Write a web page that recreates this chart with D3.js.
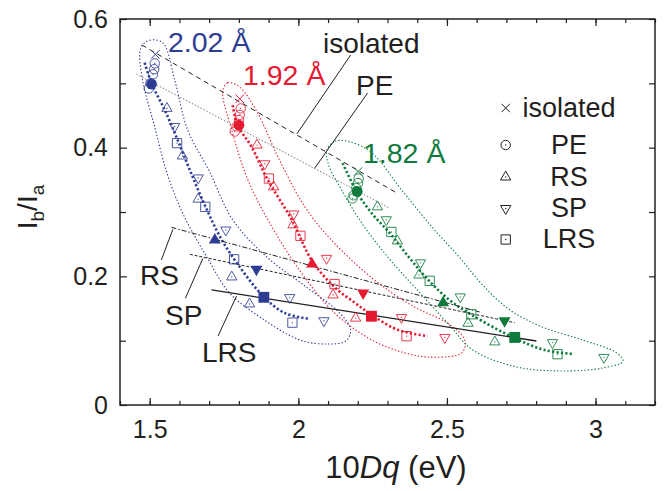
<!DOCTYPE html>
<html><head><meta charset="utf-8">
<script src="https://cdn.jsdelivr.net/npm/d3@7"></script>
<style>
body{margin:0;background:#fff}
svg{display:block}
text{font-family:"Liberation Sans",Arial,Helvetica,sans-serif;fill:#231f20}
</style>
</head><body>
<svg id="c" width="667" height="491"></svg>
<script>
// ---------------- data ----------------
const groups = ["2.02 Å", "1.92 Å", "1.82 Å"];
const isolated = [[1.519, 0.545], [1.803, 0.476], [2.201, 0.363]];
const peOpen = [
  [[1.517,0.531],[1.515,0.522],[1.511,0.514],[1.502,0.500],[1.497,0.492]],
  [[1.806,0.461],[1.803,0.451],[1.800,0.443],[1.792,0.433],[1.786,0.425]],
  [[2.203,0.352],[2.201,0.345],[2.195,0.337],[2.186,0.326],[2.182,0.321]]
];
const peFilled = [[1.506,0.499],[1.800,0.435],[2.198,0.332]];
const rsOpen = [
  [[1.558,0.461],[1.610,0.387],[1.663,0.320],[1.776,0.199],[1.836,0.157]],
  [[1.861,0.404],[1.917,0.339],[1.982,0.280],[2.117,0.171],[2.193,0.135]],
  [[2.266,0.308],[2.333,0.255],[2.406,0.202],[2.571,0.127],[2.661,0.098]]
];
const rsFilled = [[1.719,0.2565],[2.046,0.219],[2.487,0.159]];
const spOpen = [
  [[1.584,0.433],[1.663,0.353],[1.756,0.272],[1.971,0.167],[2.086,0.131]],
  [[1.887,0.375],[1.985,0.297],[2.095,0.228],[2.347,0.136],[2.493,0.105]],
  [[2.296,0.288],[2.411,0.221],[2.545,0.168],[2.855,0.097],[3.028,0.074]]
];
const spFilled = [[1.859,0.211],[2.218,0.174],[2.694,0.131]];
const lrsOpen = [
  [[1.592,0.407],[1.687,0.308],[1.784,0.2265],[1.980,0.128]],
  [[1.901,0.352],[2.007,0.263],[2.122,0.188],[2.364,0.107]],
  [[2.313,0.269],[2.442,0.193],[2.582,0.141],[2.872,0.079]]
];
const lrsFilled = [[1.884,0.1674],[2.246,0.138],[2.728,0.105]];
const trend = [
  [[1.483,0.532],[1.507,0.499],[1.550,0.459],[1.594,0.412],[1.635,0.365],[1.685,0.311],[1.742,0.257],[1.810,0.210],[1.884,0.168],[1.954,0.143],[2.035,0.134]],
  [[1.779,0.466],[1.796,0.435],[1.843,0.401],[1.897,0.350],[1.978,0.288],[2.045,0.225],[2.122,0.183],[2.190,0.159],[2.247,0.140],[2.334,0.117],[2.435,0.107]],
  [[2.149,0.376],[2.197,0.331],[2.247,0.298],[2.308,0.267],[2.375,0.228],[2.442,0.192],[2.509,0.163],[2.583,0.140],[2.728,0.104],[2.829,0.0855],[2.923,0.0793]]
];
const envelope = [
  [[1.470,0.555],[1.500,0.567],[1.544,0.563],[1.584,0.505],[1.628,0.427],[1.702,0.362],[1.779,0.288],[1.894,0.230],[2.028,0.183],[2.139,0.143],[2.176,0.117],[2.160,0.0995],[2.096,0.0948],[2.005,0.101],[1.870,0.137],[1.769,0.174],[1.692,0.230],[1.611,0.298],[1.557,0.362],[1.517,0.432],[1.476,0.505]],
  [[1.746,0.490],[1.762,0.501],[1.803,0.494],[1.863,0.454],[1.931,0.386],[2.022,0.308],[2.112,0.256],[2.257,0.194],[2.392,0.152],[2.503,0.127],[2.560,0.101],[2.550,0.081],[2.435,0.0746],[2.348,0.0824],[2.247,0.101],[2.122,0.143],[2.011,0.205],[1.911,0.277],[1.830,0.350],[1.776,0.427],[1.746,0.479]],
  [[2.096,0.396],[2.123,0.410],[2.173,0.409],[2.247,0.392],[2.348,0.334],[2.449,0.277],[2.543,0.229],[2.617,0.188],[2.711,0.148],[2.822,0.121],[2.957,0.101],[3.071,0.081],[3.092,0.068],[3.024,0.0575],[2.890,0.0529],[2.735,0.0591],[2.587,0.0855],[2.503,0.127],[2.392,0.183],[2.301,0.230],[2.213,0.283],[2.146,0.334],[2.102,0.373]]
];
const isoLine = [[1.473,0.5597],[2.331,0.3296]];
const peLine  = [[1.455,0.5145],[2.308,0.3058]];
const rsLine  = [[1.573,0.2762],[2.610,0.1446]];
const spLine  = [[1.635,0.2342],[2.728,0.1279]];
const lrsLine = [[1.708,0.1788],[2.801,0.0995]];
const xMajor = [1.5, 2, 2.5, 3];
const yMajor = [0, 0.2, 0.4, 0.6];
const legendItems = ["isolated", "PE", "RS", "SP", "LRS"];

// ---------------- drawing ----------------
const colors = ["#2e3d94", "#e5192f", "#0e7a3b"];
const ink = "#231f20";
const svg = d3.select("#c");
const L = 120, R = 655, T = 19, B = 405;
const x = d3.scaleLinear().domain([1.4, 3.2]).range([L, R]);
const y = d3.scaleLinear().domain([0, 0.6]).range([B, T]);
const ln = d3.line().x(d => x(d[0])).y(d => y(d[1]));

// envelopes
svg.append("g").selectAll("path").data(envelope).join("path")
  .attr("d", d3.line().x(d => x(d[0])).y(d => y(d[1])).curve(d3.curveCatmullRomClosed.alpha(0.5)))
  .attr("fill", "none").attr("stroke", (d, i) => colors[i])
  .attr("stroke-width", 1.1).attr("stroke-dasharray", "1.4,2");

// trend lines (thick dotted)
svg.append("g").selectAll("path").data(trend).join("path")
  .attr("d", d3.line().x(d => x(d[0])).y(d => y(d[1])).curve(d3.curveCatmullRom.alpha(0.5)))
  .attr("fill", "none").attr("stroke", (d, i) => colors[i])
  .attr("stroke-width", 2.6).attr("stroke-dasharray", "2.2,2.2");

// reference lines
const refs = [
  {d: isoLine, c: ink, w: 1, dash: "5,4"},
  {d: peLine, c: "#777", w: 1, dash: "1.5,1.8"},
  {d: rsLine, c: ink, w: 1, dash: "5,2,1.5,2"},
  {d: spLine, c: ink, w: 1, dash: "3,1.8"},
  {d: lrsLine, c: ink, w: 1.3, dash: null}
];
refs.forEach(r => {
  svg.append("path").attr("d", ln(r.d)).attr("fill", "none")
    .attr("stroke", r.c).attr("stroke-width", r.w)
    .attr("stroke-dasharray", r.dash);
});

// leader lines (annotation)
const leaders = [
  [[2.176,0.5441],[1.995,0.4213]],
  [[2.233,0.485],[2.055,0.368]],
  [[1.539,0.2254],[1.578,0.2731]],
  [[1.620,0.1659],[1.679,0.2280]],
  [[1.730,0.1073],[1.792,0.1694]]
];
leaders.forEach(p => svg.append("path").attr("d", ln(p)).attr("stroke", ink).attr("stroke-width", 1).attr("fill", "none"));

// markers
const sym = (type, size) => d3.symbol().type(type).size(size)();
const gM = svg.append("g");
function openMarker(g, type, px, py, col, down) {
  const grp = g.append("g").attr("transform", `translate(${px},${py})` + (down ? " rotate(180)" : ""));
  if (type === "circle") {
    grp.append("circle").attr("r", 4.7).attr("fill", "none").attr("stroke", col).attr("stroke-width", 1);
  } else if (type === "tri") {
    grp.append("path").attr("d", sym(d3.symbolTriangle, 46)).attr("fill", "none").attr("stroke", col).attr("stroke-width", 1);
  } else if (type === "sq") {
    grp.append("path").attr("d", sym(d3.symbolSquare, 86)).attr("fill", "none").attr("stroke", col).attr("stroke-width", 1);
  }
  grp.append("circle").attr("r", 0.7).attr("fill", col);
  return grp;
}
function filledMarker(g, type, px, py, col, down) {
  const grp = g.append("g").attr("transform", `translate(${px},${py})` + (down ? " rotate(180)" : ""));
  if (type === "circle") grp.append("circle").attr("r", 5.4).attr("fill", col);
  else if (type === "tri") grp.append("path").attr("d", sym(d3.symbolTriangle, 62)).attr("fill", col);
  else grp.append("path").attr("d", sym(d3.symbolSquare, 118)).attr("fill", col);
}
function cross(g, px, py, col, h) {
  g.append("path").attr("d", `M${px-h},${py-h}L${px+h},${py+h}M${px-h},${py+h}L${px+h},${py-h}`)
    .attr("stroke", col).attr("stroke-width", 1).attr("fill", "none");
}

groups.forEach((gname, i) => {
  const col = colors[i];
  const g = gM.append("g").attr("class", "grp");
  peOpen[i].forEach(p => openMarker(g, "circle", x(p[0]), y(p[1]), col, false).attr("opacity", 0.85));
  rsOpen[i].forEach(p => openMarker(g, "tri", x(p[0]), y(p[1]), col, false).attr("opacity", 0.85));
  spOpen[i].forEach(p => openMarker(g, "tri", x(p[0]), y(p[1]), col, true).attr("opacity", 0.85));
  lrsOpen[i].forEach(p => openMarker(g, "sq", x(p[0]), y(p[1]), col, false).attr("opacity", 0.85));
  cross(g, x(isolated[i][0]), y(isolated[i][1]), col, 4.2);
  filledMarker(g, "circle", x(peFilled[i][0]), y(peFilled[i][1]), col, false);
  filledMarker(g, "tri", x(rsFilled[i][0]), y(rsFilled[i][1]), col, false);
  filledMarker(g, "tri", x(spFilled[i][0]), y(spFilled[i][1]), col, true);
  filledMarker(g, "sq", x(lrsFilled[i][0]), y(lrsFilled[i][1]), col, false);
});

// group labels
const glabPos = [[168, 52], [243, 85], [363, 163]];
groups.forEach((t, i) => {
  svg.append("text").attr("x", glabPos[i][0]).attr("y", glabPos[i][1])
    .attr("font-size", 28.5).style("fill", colors[i]).text(t);
});

// line labels
const labs = [["isolated", 323, 53], ["PE", 356, 95], ["RS", 140, 285], ["SP", 165, 325], ["LRS", 202, 362]];
labs.forEach(l => svg.append("text").attr("x", l[1]).attr("y", l[2]).attr("font-size", 28).text(l[0]));

// legend
const legY = [108, 145, 177, 208.5, 239.5];
const gL = svg.append("g");
legendItems.forEach((t, k) => {
  const sx = 505.7, sy = legY[k];
  if (k === 0) cross(gL, sx, sy, ink, 4.2);
  else if (k === 1) openMarker(gL, "circle", sx, sy, ink, false);
  else if (k === 2) openMarker(gL, "tri", sx, sy, ink, false);
  else if (k === 3) openMarker(gL, "tri", sx, sy, ink, true);
  else openMarker(gL, "sq", sx, sy, ink, false);
  gL.append("text").attr("x", 569).attr("y", sy + 8.5).attr("text-anchor", "middle")
    .attr("font-size", 27).text(t);
});

// axes
const minorX = d3.range(14, 33).map(v => v / 10);
const minorY = [0.1, 0.3, 0.5];
const axG = svg.append("g");
function styleAxis(sel) {
  sel.select(".domain").remove();
  sel.selectAll("line").attr("stroke", ink).attr("stroke-width", 1.2);
  sel.selectAll("text").attr("font-size", 25).style("fill", ink)
    .attr("font-family", '"Liberation Sans",Arial,sans-serif');
}
axG.append("g").attr("transform", `translate(0,${B})`)
  .call(d3.axisBottom(x).tickValues(minorX).tickSize(-4).tickFormat("")).call(styleAxis);
axG.append("g").attr("transform", `translate(0,${B})`)
  .call(d3.axisBottom(x).tickValues(xMajor).tickSize(-7).tickPadding(15).tickFormat(d3.format("~g"))).call(styleAxis);
axG.append("g").attr("transform", `translate(0,${T})`)
  .call(d3.axisTop(x).tickValues(minorX).tickSize(-4).tickFormat("")).call(styleAxis);
axG.append("g").attr("transform", `translate(0,${T})`)
  .call(d3.axisTop(x).tickValues(xMajor).tickSize(-7).tickFormat("")).call(styleAxis);
axG.append("g").attr("transform", `translate(${L},0)`)
  .call(d3.axisLeft(y).tickValues(yMajor).tickSize(-7).tickPadding(12).tickFormat(d => d === 0 ? "0" : d3.format(".1f")(d))).call(styleAxis);
axG.append("g").attr("transform", `translate(${L},0)`)
  .call(d3.axisLeft(y).tickValues(minorY).tickSize(-6).tickFormat("")).call(styleAxis);
axG.append("g").attr("transform", `translate(${R},0)`)
  .call(d3.axisRight(y).tickValues(yMajor.concat(minorY)).tickSize(-6).tickFormat("")).call(styleAxis);
svg.append("rect").attr("x", L).attr("y", T).attr("width", R - L).attr("height", B - T)
  .attr("fill", "none").attr("stroke", ink).attr("stroke-width", 1.5);

// axis titles
const xt = svg.append("text").attr("x", 396).attr("y", 478).attr("text-anchor", "middle").attr("font-size", 31);
xt.append("tspan").text("10");
xt.append("tspan").attr("font-style", "italic").text("Dq");
xt.append("tspan").text(" (eV)");

const yt = svg.append("text").attr("transform", "translate(37,207) rotate(-90)").attr("text-anchor", "middle").attr("font-size", 28);
yt.append("tspan").text("I");
yt.append("tspan").attr("font-size", 19).attr("dy", 7).text("b");
yt.append("tspan").attr("dy", -7).text("/I");
yt.append("tspan").attr("font-size", 19).attr("dy", 7).text("a");
</script>
</body></html>
